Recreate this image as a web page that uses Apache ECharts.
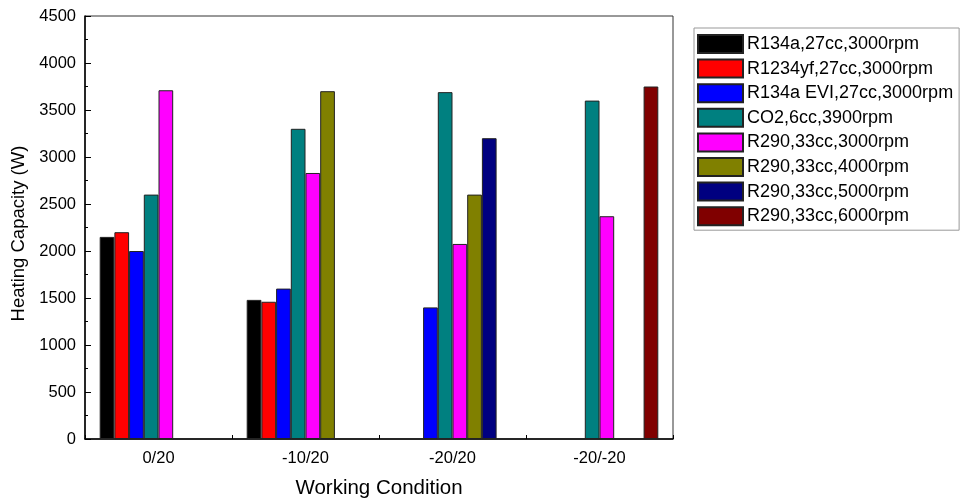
<!DOCTYPE html>
<html><head><meta charset="utf-8">
<script src="https://cdn.jsdelivr.net/npm/echarts@6/dist/echarts.min.js"></script>
<style>html,body{margin:0;padding:0;background:#fff}#c{width:960px;height:501px}</style>
</head><body><div id="c"></div>
<script>
const categories = ['0/20', '-10/20', '-20/20', '-20/-20'];
const seriesNames = ['R134a,27cc,3000rpm','R1234yf,27cc,3000rpm','R134a EVI,27cc,3000rpm','CO2,6cc,3900rpm','R290,33cc,3000rpm','R290,33cc,4000rpm','R290,33cc,5000rpm','R290,33cc,6000rpm'];
const colors = ['#000000','#ff0000','#0000ff','#008080','#ff00ff','#808000','#000080','#800000'];
const r134a = [2150, 1480, null, null];
const r1234yf = [2200, 1460, null, null];
const r134aEVI = [2000, 1600, 1400, null];
const co2 = [2600, 3300, 3690, 3600];
const r290_3000 = [3710, 2830, 2075, 2370];
const r290_4000 = [null, 3700, 2600, null];
const r290_5000 = [null, null, 3200, null];
const r290_6000 = [null, null, null, 3750];
const seriesData = [r134a, r1234yf, r134aEVI, co2, r290_3000, r290_4000, r290_5000, r290_6000];
const yTicks = [0,500,1000,1500,2000,2500,3000,3500,4000,4500];

const font = 'Liberation Sans, Arial, sans-serif';
const chart = echarts.init(document.getElementById('c'));
chart.setOption({
  animation: false,
  backgroundColor: '#fff',
  grid: {left: 85, right: 287, top: 16, bottom: 62, show: true, borderColor: '#333', borderWidth: 1,
    backgroundColor: 'transparent', containLabel: false, outerBoundsMode: 'none'},
  legend: {
    orient: 'vertical', left: 694, top: 28,
    itemWidth: 45, itemHeight: 18, itemGap: 4.6,
    padding: [6, 6, 4, 3],
    borderColor: '#999', borderWidth: 1,
    icon: 'rect',
    textStyle: {fontFamily: font, fontSize: 18, lineHeight: 18, color: '#000', padding: [0,0,0,-1]},
    data: seriesNames
  },
  xAxis: {
    type: 'category', data: categories,
    name: 'Working Condition', nameLocation: 'middle', nameGap: 39,
    nameTextStyle: {fontFamily: font, fontSize: 20.5, color: '#000'},
    axisLine: {lineStyle: {color: '#000', width: 1.5}},
    axisTick: {show: true, inside: true, length: 4, lineStyle: {color: '#000'}},
    axisLabel: {fontFamily: font, fontSize: 16.5, color: '#000', margin: 11}
  },
  yAxis: {
    type: 'value', min: 0, max: 4500, interval: 500,
    name: 'Heating Capacity (W)', nameLocation: 'middle', nameGap: 50,
    nameTextStyle: {fontFamily: font, fontSize: 18.5, color: '#000', padding: [0, 12, 0, 0]},
    axisLine: {show: true, lineStyle: {color: '#000', width: 1.5}},
    axisTick: {show: true, inside: true, length: 6, lineStyle: {color: '#000'}},
    minorTick: {show: true, splitNumber: 2, length: 3, lineStyle: {color: '#000'}},
    splitLine: {show: false},
    axisLabel: {fontFamily: font, fontSize: 16.5, color: '#000', margin: 9,
      formatter: v => yTicks.includes(v) ? String(v) : ''}
  },
  series: seriesData.map((d, i) => ({
    type: 'bar', name: seriesNames[i], data: d,
    barGap: '0%', barCategoryGap: '20%',
    itemStyle: {color: colors[i], borderColor: '#222', borderWidth: 1}
  }))
});
</script></body></html>
